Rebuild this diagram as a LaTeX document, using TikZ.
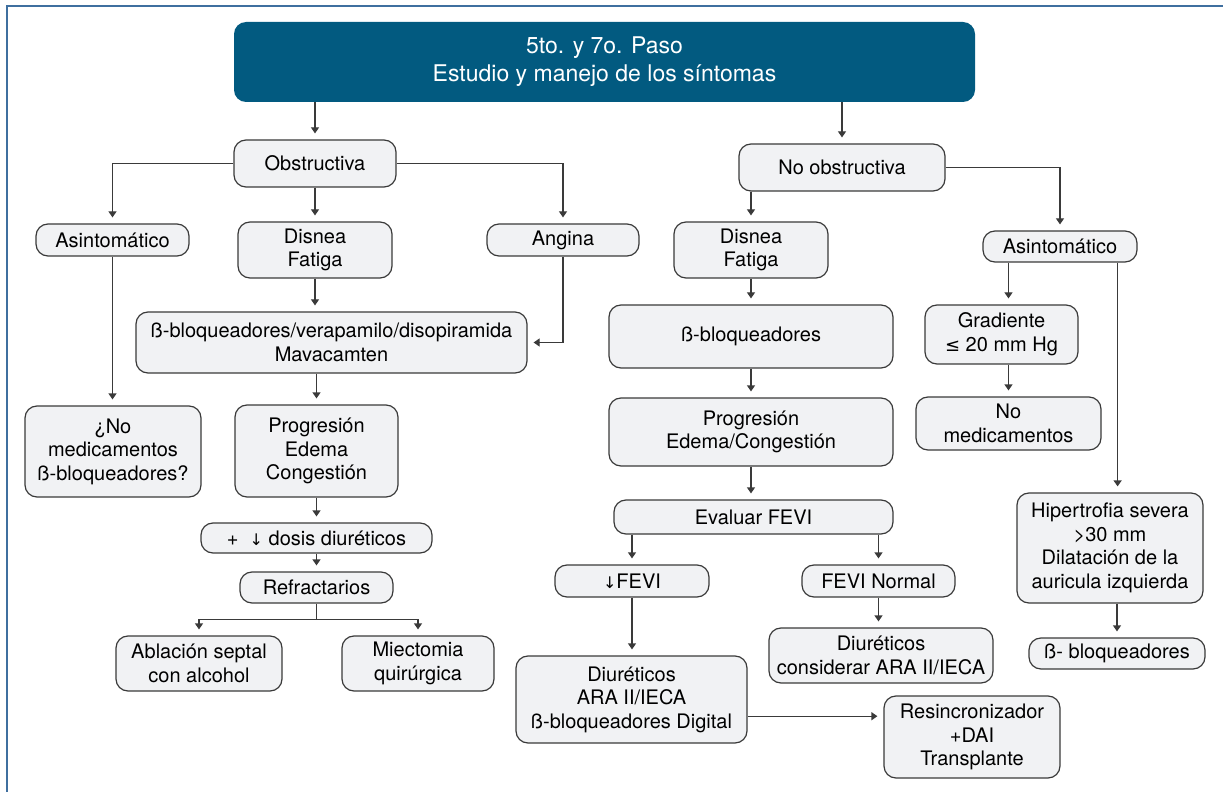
\documentclass[tikz,border=0pt]{standalone}
\usepackage{fontspec}
\setmainfont{TeX Gyre Heros}
\newfontfamily\symfont{DejaVu Sans}
\usepackage{tikz}
\usetikzlibrary{arrows.meta,calc}
\definecolor{titleblue}{HTML}{025A80}
\definecolor{boxfill}{HTML}{F1F2F4}
\definecolor{boxline}{HTML}{3A3A3A}
\definecolor{framecol}{HTML}{3F6F9F}
\tikzset{
    flow-box/.style = {draw=boxline, fill=boxfill, line width=0.6pt, rectangle, rounded corners=6pt, align=center, inner sep=2pt, font=\fontsize{10}{11.8}\selectfont},
    flow-title/.style = {fill=titleblue, text=white, rectangle, rounded corners=6pt, align=center, font=\fontsize{11.5}{14}\selectfont},
    flow-arrow/.style = {draw=boxline, line width=0.6pt, -{Triangle[width=4pt,length=3pt]}, shorten >=3pt},
    flow-line/.style = {draw=boxline, line width=0.6pt},
}
\newcommand{\dnarrow}{{\symfont\fontsize{8}{8}\selectfont ↓}}

\begin{document}
\begin{tikzpicture}[x=0.5pt,y=-0.5pt]
\useasboundingbox (0,0) rectangle (1223,792);
\draw[framecol, line width=0.7pt] (7,792) -- (7,6) -- (1223,6);

\node[flow-title, minimum width=370.5pt, minimum height=40pt] (title) at (604.5,62) {5to. y 7o. Paso\\Estudio y manejo de los síntomas};

% obstructiva
\node[flow-box, minimum width=81pt, minimum height=23.5pt] (obs) at (315,163.5) {Obstructiva};
\node[flow-box, minimum width=76.5pt, minimum height=16pt] (asin1) at (112.5,240) {Asintomático};
\node[flow-box, minimum width=77pt, minimum height=28pt] (disn1) at (315,250) {Disnea\\Fatiga};
\node[flow-box, minimum width=76pt, minimum height=16pt] (angina) at (563,240) {Angina};
\node[flow-box, minimum width=195.5pt, minimum height=30.5pt] (bb1) at (331.5,342.5) {ß-bloqueadores/verapamilo/disopiramida\\Mavacamten};
\node[flow-box, minimum width=88pt, minimum height=45.5pt] (nomed1) at (113,451.5) {¿No\\medicamentos\\ß-bloqueadores?};
\node[flow-box, minimum width=81.5pt, minimum height=46pt] (prog1) at (316.5,451) {Progresión\\Edema\\Congestión};
\node[flow-box, minimum width=115.5pt, minimum height=15pt] (dosis) at (316.5,538) {+\ \ \dnarrow\ dosis diuréticos};
\node[flow-box, minimum width=76.5pt, minimum height=15.5pt] (refr) at (316.5,587.5) {Refractarios};
\node[flow-box, minimum width=83pt, minimum height=27.5pt] (abl) at (199,663.5) {Ablación septal\\con alcohol};
\node[flow-box, minimum width=76pt, minimum height=27.5pt] (miec) at (418,663.5) {Miectomia\\quirúrgica};

% no obstructiva
\node[flow-box, minimum width=103pt, minimum height=23.5pt] (noobs) at (842,167.5) {No obstructiva};
\node[flow-box, minimum width=77pt, minimum height=28pt] (disn2) at (751,250) {Disnea\\Fatiga};
\node[flow-box, minimum width=77pt, minimum height=15.5pt] (asin2) at (1060,246.5) {Asintomático};
\node[flow-box, minimum width=142pt, minimum height=31.5pt] (bb2) at (751,336.5) {ß-bloqueadores};
\node[flow-box, minimum width=142pt, minimum height=34pt] (prog2) at (751,432) {Progresión\\Edema/Congestión};
\node[flow-box, minimum width=139.5pt, minimum height=17pt] (eval) at (753.5,517) {Evaluar FEVI};
\node[flow-box, minimum width=77pt, minimum height=16pt] (lfevi) at (632,581) {\dnarrow FEVI};
\node[flow-box, minimum width=76.5pt, minimum height=16pt] (fnorm) at (878.5,581) {FEVI Normal};
\node[flow-box, minimum width=115.5pt, minimum height=43.5pt] (diur) at (631.5,699.5) {Diuréticos\\ARA II/IECA\\ß-bloqueadores Digital};
\node[flow-box, minimum width=112pt, minimum height=27.5pt] (dcons) at (881,655.5) {Diuréticos\\considerar ARA II/IECA};
\node[flow-box, minimum width=88pt, minimum height=41pt] (resinc) at (972,737) {Resincronizador\\+DAI\\Transplante};
\node[flow-box, minimum width=76.5pt, minimum height=29.5pt] (grad) at (1001.5,334.5) {Gradiente\\{\symfont\fontsize{9}{9}\selectfont ≤} 20 mm Hg};
\node[flow-box, minimum width=92.5pt, minimum height=26.5pt] (nomed2) at (1008.5,423.5) {No\\medicamentos};
\node[flow-box, minimum width=93pt, minimum height=55pt] (hiper) at (1110,548) {Hipertrofia severa\\>30 mm\\Dilatación de la\\auricula izquierda};
\node[flow-box, minimum width=88pt, minimum height=15.5pt] (bbr) at (1117,653.5) {ß- bloqueadores};

% connectors, left half
\draw[flow-arrow] (title.south -| obs.north) -- (obs.north);
\draw[flow-arrow] (obs.west) -| (asin1.north);
\draw[flow-arrow] (obs.south) -- (disn1.north);
\draw[flow-arrow] (obs.east) -| (angina.north);
\draw[flow-arrow] (asin1.south) -- (asin1.south |- nomed1.north);
\draw[flow-arrow] (disn1.south) -- (disn1.south |- bb1.north);
\draw[flow-arrow] (angina.south) |- (bb1.east);
\draw[flow-arrow] (bb1.south -| prog1.north) -- (prog1.north);
\draw[flow-arrow] (prog1.south) -- (dosis.north);
\draw[flow-arrow] (dosis.south) -- (refr.north);
\coordinate (split) at ($(refr.south)+(0,16)$);
\draw[flow-line] (refr.south) -- (split);
\draw[flow-arrow] (split) -| (abl.north);
\draw[flow-arrow] (split) -| (miec.north);

% connectors, right half
\draw[flow-arrow] (title.south -| noobs.north) -- (noobs.north);
\draw[flow-arrow] (noobs.south -| disn2.north) -- (disn2.north);
\draw[flow-arrow] (noobs.east) -| (asin2.north);
\draw[flow-arrow] (disn2.south) -- (bb2.north);
\draw[flow-arrow] (bb2.south) -- (prog2.north);
\draw[flow-arrow] (prog2.south) -- (prog2.south |- eval.north);
\draw[flow-arrow] (eval.south -| lfevi.north) -- (lfevi.north);
\draw[flow-arrow] (eval.south -| fnorm.north) -- (fnorm.north);
\draw[flow-arrow] (lfevi.south) -- (lfevi.south |- diur.north);
\draw[flow-arrow] (fnorm.south) -- (fnorm.south |- dcons.north);
\coordinate (resinc-in) at ($(resinc.north west)!0.25!(resinc.south west)$);
\draw[flow-arrow] (diur.east |- resinc-in) -- (resinc-in);
\draw[flow-arrow] (asin2.south -| nomed2.north) -- (grad.north -| nomed2.north);
\draw[flow-arrow] (grad.south -| nomed2.north) -- (nomed2.north);
\draw[flow-arrow] ([xshift=-10pt]asin2.south east) -- ([xshift=-10pt]asin2.south east |- hiper.north);
\draw[flow-arrow] (hiper.south -| bbr.north) -- (bbr.north);
\end{tikzpicture}
\end{document}
